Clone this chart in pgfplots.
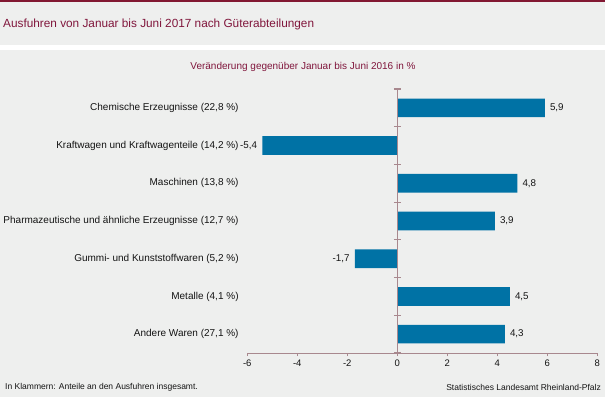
\documentclass[border=0pt]{standalone}
\usepackage{fontspec}
\setmainfont{Liberation Sans}
\usepackage{pgfplots}
\pgfplotsset{compat=1.18}
\definecolor{bg}{RGB}{238,239,238}
\definecolor{topred}{RGB}{130,24,50}
\definecolor{titlecol}{RGB}{128,22,60}
\definecolor{barcol}{RGB}{0,114,165}
\definecolor{axcol}{RGB}{168,136,142}
\definecolor{txt}{RGB}{20,20,20}
\begin{document}
\begin{tikzpicture}[x=1pt,y=1pt]
\fill[bg] (0,0) rectangle (605,397);
\fill[topred] (0,395) rectangle (605,397);
\fill[white] (0,347) rectangle (605,352);
\node[anchor=west,inner sep=0pt,text=titlecol,font=\fontsize{11.8}{13}\selectfont] at (3,373) {Ausfuhren von Januar bis Juni 2017 nach Güterabteilungen};
\node[anchor=center,inner sep=0pt,text=titlecol,font=\fontsize{10}{12}\selectfont] at (303,330) {Veränderung gegenüber Januar bis Juni 2016 in \%};
\begin{axis}[
  at={(247.3pt,44pt)}, anchor=south west,
  scale only axis, width=350pt, height=264pt,
  xmin=-6, xmax=8, ymin=-0.5, ymax=6.5,
  y dir=reverse,
  xbar, bar width=18.7pt,
  axis x line*=bottom,
  y axis line style={draw=none},
  x axis line style={axcol, line width=0.9pt},
  xtick={-6,-4,...,8},
  x tick style={axcol, line width=0.9pt},
  tick align=outside, major tick length=3pt,
  ytick={0,...,6},
  y tick style={draw=none},
  yticklabels={{Chemische Erzeugnisse (22,8 \%)},{Kraftwagen und Kraftwagenteile (14,2 \%)},{Maschinen (13,8 \%)},{Pharmazeutische und ähnliche Erzeugnisse (12,7 \%)},{Gummi- und Kunststoffwaren (5,2 \%)},{Metalle (4,1 \%)},{Andere Waren (27,1 \%)}},
  yticklabel style={font=\fontsize{10}{11}\selectfont, text=txt, anchor=east, inner sep=0pt, xshift=-5.5pt},
  xticklabel style={font=\fontsize{9.5}{11}\selectfont, text=txt},
  /pgf/number format/assume math mode=true,
  nodes near coords,
  nodes near coords align={horizontal},
  every node near coord/.append style={font=\fontsize{9.8}{11}\selectfont, text=txt, inner sep=5pt,
    /pgf/number format/.cd, fixed, fixed zerofill, precision=1, use comma, assume math mode=true},
  clip=false,
]
\addplot[draw=none, fill=barcol] coordinates {(5.9,0) (-5.4,1) (4.8,2) (3.9,3) (-1.7,4) (4.5,5) (4.3,6)};
\end{axis}
\draw[axcol, line width=0.9pt] (397.3,44) -- (397.3,308);
\foreach \k in {0,...,7} {
  \draw[axcol, line width=1.1pt] (393.8,{44+\k*37.714}) -- (400.8,{44+\k*37.714});
}
\node[anchor=west,inner sep=0pt,text=txt,font=\fontsize{8.5}{10}\selectfont] at (5,10) {In Klammern: Anteile an den Ausfuhren insgesamt.};
\node[anchor=east,inner sep=0pt,text=txt,font=\fontsize{8.5}{10}\selectfont] at (601,10) {Statistisches Landesamt Rheinland-Pfalz};
\pgfresetboundingbox
\path[use as bounding box] (0,0) rectangle (605,397);
\end{tikzpicture}
\end{document}
